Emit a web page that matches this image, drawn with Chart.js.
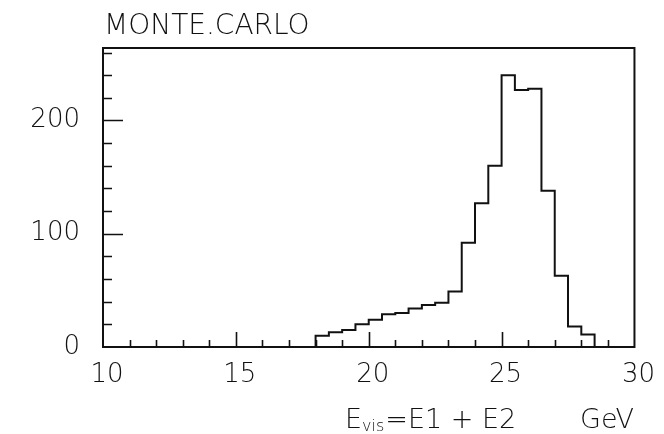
<!DOCTYPE html>
<html>
<head>
<meta charset="utf-8">
<script src="https://cdn.jsdelivr.net/npm/chart.js@4.4.1/dist/chart.umd.min.js"></script>
<style>
  html, body { margin: 0; padding: 0; background: #fff; }
  #wrap { width: 664px; height: 434px; position: relative; }
</style>
</head>
<body>
<div id="wrap"><canvas id="mc-chart"></canvas></div>
<script>
// Histogram: visible energy, 0.5 GeV bins from 10 to 30 GeV
var binLow = [10, 10.5, 11, 11.5, 12, 12.5, 13, 13.5, 14, 14.5,
              15, 15.5, 16, 16.5, 17, 17.5, 18, 18.5, 19, 19.5,
              20, 20.5, 21, 21.5, 22, 22.5, 23, 23.5, 24, 24.5,
              25, 25.5, 26, 26.5, 27, 27.5, 28, 28.5, 29, 29.5];
var counts = [0, 0, 0, 0, 0, 0, 0, 0, 0, 0,
              0, 0, 0, 0, 0, 0, 10, 13, 15, 20,
              24, 29, 30, 34, 37, 39, 49, 92, 127, 160,
              240, 227, 228, 138, 63, 18, 11, 0, 0, 0];
var xEnd = 30;

var xTickLabels = [10, 15, 20, 25, 30];
var yTickLabels = [0, 100, 200];
var xMinorTicks = [11, 12, 13, 14, 15, 16, 17, 18, 19, 20, 21, 22, 23, 24, 25, 26, 27, 28, 29];
var yMinorTicks = [20, 40, 60, 80, 100, 120, 140, 160, 180, 200, 220, 240, 260];

var chartTitle = "MONTE.CARLO";
var axisTitleMain = "E";
var axisTitleSub = "vis";
var axisTitleRest = "=E1 + E2";
var axisUnit = "GeV";

var FONT = "'DejaVu Sans', sans-serif";

// points at bin lower edges + closing edge, drawn as step line
var points = binLow.map(function (x, i) { return { x: x, y: counts[i] }; });
points.push({ x: xEnd, y: 0 });

// frame box, inward ticks and text labels
var framePlugin = {
  id: "mcFrame",
  afterDraw: function (chart) {
    var ctx = chart.ctx;
    var a = chart.chartArea;
    var xs = chart.scales.x;
    var ys = chart.scales.y;
    ctx.save();
    ctx.strokeStyle = "#111";
    ctx.lineWidth = 2;
    ctx.strokeRect(a.left, a.top, a.right - a.left, a.bottom - a.top);

    ctx.lineWidth = 1.6;
    ctx.beginPath();
    xMinorTicks.forEach(function (v) {
      var px = Math.round(xs.getPixelForValue(v)) + 0.5;
      var len = v % 5 === 0 ? 15 : 7;
      ctx.moveTo(px, a.bottom);
      ctx.lineTo(px, a.bottom - len);
    });
    yMinorTicks.forEach(function (v) {
      var py = Math.round(ys.getPixelForValue(v)) + 0.5;
      var len = v % 100 === 0 ? 20 : 9;
      ctx.moveTo(a.left, py);
      ctx.lineTo(a.left + len, py);
    });
    ctx.stroke();

    ctx.fillStyle = "#111";
    ctx.textBaseline = "alphabetic";
    ctx.textAlign = "left";
    ctx.font = "200 28px " + FONT;
    ctx.fillText(chartTitle, a.left + 1, 34);

    // axis title with subscript
    var x0 = 345, base = 428;
    ctx.font = "200 27px " + FONT;
    ctx.fillText(axisTitleMain, x0, base);
    x0 += ctx.measureText(axisTitleMain).width;
    ctx.font = "200 16px " + FONT;
    ctx.fillText(axisTitleSub, x0, base + 3);
    x0 += ctx.measureText(axisTitleSub).width + 1;
    ctx.font = "200 27px " + FONT;
    ctx.fillText(axisTitleRest, x0, base);
    ctx.fillText(axisUnit, 580, base);
    ctx.restore();
  }
};

var ctx = document.getElementById("mc-chart").getContext("2d");
new Chart(ctx, {
  type: "line",
  data: {
    datasets: [{
      data: points,
      stepped: "before",
      borderColor: "#111",
      borderWidth: 2,
      pointRadius: 0,
      fill: false,
      clip: 4
    }]
  },
  options: {
    responsive: true,
    maintainAspectRatio: false,
    animation: false,
    events: [],
    layout: { padding: { top: 48, right: 24, left: 0, bottom: 0 } },
    plugins: {
      legend: { display: false },
      tooltip: { enabled: false },
      title: { display: false }
    },
    scales: {
      x: {
        type: "linear",
        min: 10,
        max: 30,
        afterBuildTicks: function (scale) {
          scale.ticks = xTickLabels.map(function (v) { return { value: v }; });
        },
        afterFit: function (scale) { scale.height = 87; },
        grid: { display: false, drawTicks: false },
        border: { display: false },
        ticks: {
          color: "#111",
          padding: 13,
          labelOffset: 4,
          maxRotation: 0,
          autoSkip: false,
          font: { family: FONT, size: 26, weight: "200" }
        }
      },
      y: {
        min: 0,
        max: 264,
        afterBuildTicks: function (scale) {
          scale.ticks = yTickLabels.map(function (v) { return { value: v }; });
        },
        afterFit: function (scale) { scale.width = 103; },
        grid: { display: false, drawTicks: false },
        border: { display: false },
        ticks: {
          color: "#111",
          padding: 23,
          font: { family: FONT, size: 26, weight: "200" }
        }
      }
    }
  },
  plugins: [framePlugin]
});
</script>
</body>
</html>
